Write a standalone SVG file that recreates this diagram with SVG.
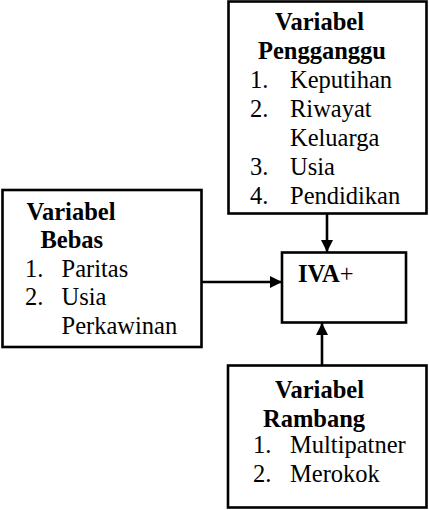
<svg xmlns="http://www.w3.org/2000/svg" width="429" height="510" viewBox="0 0 429 510">
<defs>
<style>
.box{fill:#fff;stroke:#000;stroke-width:2.6}
.t{font-family:"Liberation Serif","Times New Roman",serif;font-size:24.5px;fill:#000}
.b{font-weight:bold}
.c{stroke:#000;stroke-width:2.6;fill:none}
</style>
<marker id="ah" markerUnits="userSpaceOnUse" markerWidth="13" markerHeight="13" refX="12" refY="6" orient="auto">
<path d="M0,0 L12,6 L0,12 z" fill="#000"/>
</marker>
</defs>
<rect width="429" height="510" fill="#fff"/>
<g id="connectors">
<line class="c" x1="327" y1="214" x2="327" y2="252" marker-end="url(#ah)"/>
<line class="c" x1="201" y1="282" x2="282" y2="282" marker-end="url(#ah)"/>
<line class="c" x1="322" y1="365" x2="322" y2="323" marker-end="url(#ah)"/>
</g>
<g id="pengganggu">
<rect class="box" x="228.5" y="1.5" width="198" height="212"/>
<text class="t b" x="275" y="30">Variabel</text>
<text class="t b" x="258" y="59">Pengganggu</text>
<text class="t" x="250" y="88">1.</text><text class="t" x="290" y="88">Keputihan</text>
<text class="t" x="250" y="117">2.</text><text class="t" x="290" y="117">Riwayat</text>
<text class="t" x="290" y="146">Keluarga</text>
<text class="t" x="250" y="175">3.</text><text class="t" x="290" y="175">Usia</text>
<text class="t" x="250" y="204">4.</text><text class="t" x="290" y="204">Pendidikan</text>
</g>
<g id="bebas">
<rect class="box" x="2.5" y="190" width="199" height="157"/>
<text class="t b" x="26.5" y="220">Variabel</text>
<text class="t b" x="40.5" y="248">Bebas</text>
<text class="t" x="25" y="277">1.</text><text class="t" x="61.5" y="277">Paritas</text>
<text class="t" x="25" y="305">2.</text><text class="t" x="61.5" y="305">Usia</text>
<text class="t" x="61.5" y="334">Perkawinan</text>
</g>
<g id="iva">
<rect class="box" x="282" y="252.5" width="124" height="70"/>
<text class="t" x="298" y="282"><tspan class="b">IVA</tspan>+</text>
</g>
<g id="rambang">
<rect class="box" x="228" y="365.5" width="198.5" height="142"/>
<text class="t b" x="275" y="398">Variabel</text>
<text class="t b" x="263" y="427">Rambang</text>
<text class="t" x="253" y="453">1.</text><text class="t" x="290" y="453">Multipatner</text>
<text class="t" x="253" y="482">2.</text><text class="t" x="290" y="482">Merokok</text>
</g>
</svg>
